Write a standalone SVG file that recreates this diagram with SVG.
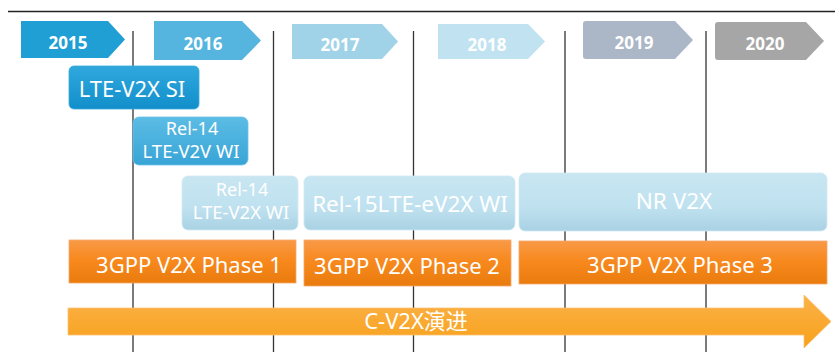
<svg xmlns="http://www.w3.org/2000/svg" width="835" height="355" viewBox="0 0 835 355">
<defs>
<linearGradient id="gSI" x1="0" y1="0" x2="0" y2="1"><stop offset="0" stop-color="#2FA8DD"/><stop offset="1" stop-color="#128FCB"/></linearGradient>
<linearGradient id="gV2V" x1="0" y1="0" x2="0" y2="1"><stop offset="0" stop-color="#5CBCE5"/><stop offset="1" stop-color="#38A4D6"/></linearGradient>
<linearGradient id="gLight" x1="0" y1="0" x2="0" y2="1"><stop offset="0" stop-color="#C8E6F2"/><stop offset="0.6" stop-color="#BFE1EF"/><stop offset="1" stop-color="#A9D2E4"/></linearGradient>
<linearGradient id="gPhase" x1="0" y1="0" x2="0" y2="1"><stop offset="0" stop-color="#F99A48"/><stop offset="0.45" stop-color="#F7891E"/><stop offset="1" stop-color="#EA7C0E"/></linearGradient>
<linearGradient id="gArrow" x1="0" y1="0" x2="0" y2="1"><stop offset="0" stop-color="#FBB248"/><stop offset="1" stop-color="#F8A11B"/></linearGradient>
</defs>
<style>
.yr{font-family:"Open Sans","Noto Sans",sans-serif;font-weight:bold;font-size:17px;fill:#fff;text-anchor:middle}
.t{font-family:"Noto Sans","Noto Sans CJK SC",sans-serif;fill:#fff;text-anchor:middle}
.vl{stroke:#333;stroke-width:1.3}
</style>
<line x1="8" y1="11.5" x2="835" y2="11.5" stroke="#222" stroke-width="1.5"/>
<g id="gridlines">
<line class="vl" x1="133" y1="31" x2="133" y2="352"/>
<line class="vl" x1="273.5" y1="31" x2="273.5" y2="352"/>
<line class="vl" x1="413.5" y1="31" x2="413.5" y2="352"/>
<line class="vl" x1="565" y1="31" x2="565" y2="352"/>
<line class="vl" x1="706" y1="31" x2="706" y2="352"/>
</g>
<g id="y2015"><polygon points="21,21 108,21 125,39.5 108,58 21,58" fill="#1F9FD4"/><text class="yr" x="68" y="49">2015</text></g>
<g id="y2016"><polygon points="154,21 242,21 261,40.5 242,60 154,60" fill="#55B5DE"/><text class="yr" x="203" y="50">2016</text></g>
<g id="y2017"><polygon points="292,24 382,24 398,41.5 382,59 292,59" fill="#A0D3E8"/><text class="yr" x="340" y="51">2017</text></g>
<g id="y2018"><polygon points="438,24 528,24 545,41.5 528,59 438,59" fill="#C0E2F1"/><text class="yr" x="487" y="51">2018</text></g>
<g id="y2019"><path d="M586,21 L675,21 L693,40 L675,59 L586,59 Q583,59 583,56 L583,24 Q583,21 586,21 Z" fill="#ABB6C6"/><text class="yr" x="634" y="49">2019</text></g>
<g id="y2020"><path d="M718,22 L806,22 L824,41 L806,60 L718,60 Q715,60 715,57 L715,25 Q715,22 718,22 Z" fill="#A6A6A6"/><text class="yr" x="765" y="50">2020</text></g>
<g id="lte-v2x-si"><rect x="69" y="66" width="130" height="43" rx="5" fill="url(#gSI)" stroke="#3AAADB" stroke-width="0.8"/><text class="t" x="132" y="97" font-size="22">LTE-V2X SI</text></g>
<g id="rel14-v2v"><rect x="133" y="117" width="115" height="48" rx="6" fill="url(#gV2V)" stroke="#6CC2E6" stroke-width="0.8"/><text class="t" x="192" y="135" font-size="18">Rel-14</text><text class="t" x="191" y="158" font-size="18.5">LTE-V2V WI</text></g>
<g id="rel14-v2x"><rect x="182" y="176" width="116" height="54" rx="6" fill="url(#gLight)" stroke="#D2EAF4" stroke-width="0.8"/><text class="t" x="242" y="196" font-size="18">Rel-14</text><text class="t" x="241" y="219" font-size="18.5">LTE-V2X WI</text></g>
<g id="rel15"><rect x="304" y="176" width="211" height="54" rx="6" fill="url(#gLight)" stroke="#D2EAF4" stroke-width="0.8"/><text class="t" x="410" y="212" font-size="22.5">Rel-15LTE-eV2X WI</text></g>
<g id="nr-v2x"><rect x="519" y="173" width="308" height="58" rx="6" fill="url(#gLight)" stroke="#D2EAF4" stroke-width="0.8"/><text class="t" x="674" y="209" font-size="22.5">NR V2X</text></g>
<g id="phase1"><rect x="69" y="240" width="227" height="43" fill="url(#gPhase)" stroke="#F6A86A" stroke-width="0.8"/><text class="t" x="189" y="273" font-size="22">3GPP V2X Phase 1</text></g>
<g id="phase2"><rect x="304" y="240" width="207" height="46" fill="url(#gPhase)" stroke="#F6A86A" stroke-width="0.8"/><text class="t" x="407" y="274" font-size="22">3GPP V2X Phase 2</text></g>
<g id="phase3"><rect x="519" y="241" width="308" height="43" fill="url(#gPhase)" stroke="#F6A86A" stroke-width="0.8"/><text class="t" x="680" y="273" font-size="22">3GPP V2X Phase 3</text></g>
<g id="cv2x"><polygon points="68,308 804,308 804,295 831,321.5 804,348 804,335 68,335" fill="url(#gArrow)" stroke="#FBC070" stroke-width="0.8"/><text class="t" x="416" y="329" font-size="22">C-V2X演进</text></g>
</svg>
